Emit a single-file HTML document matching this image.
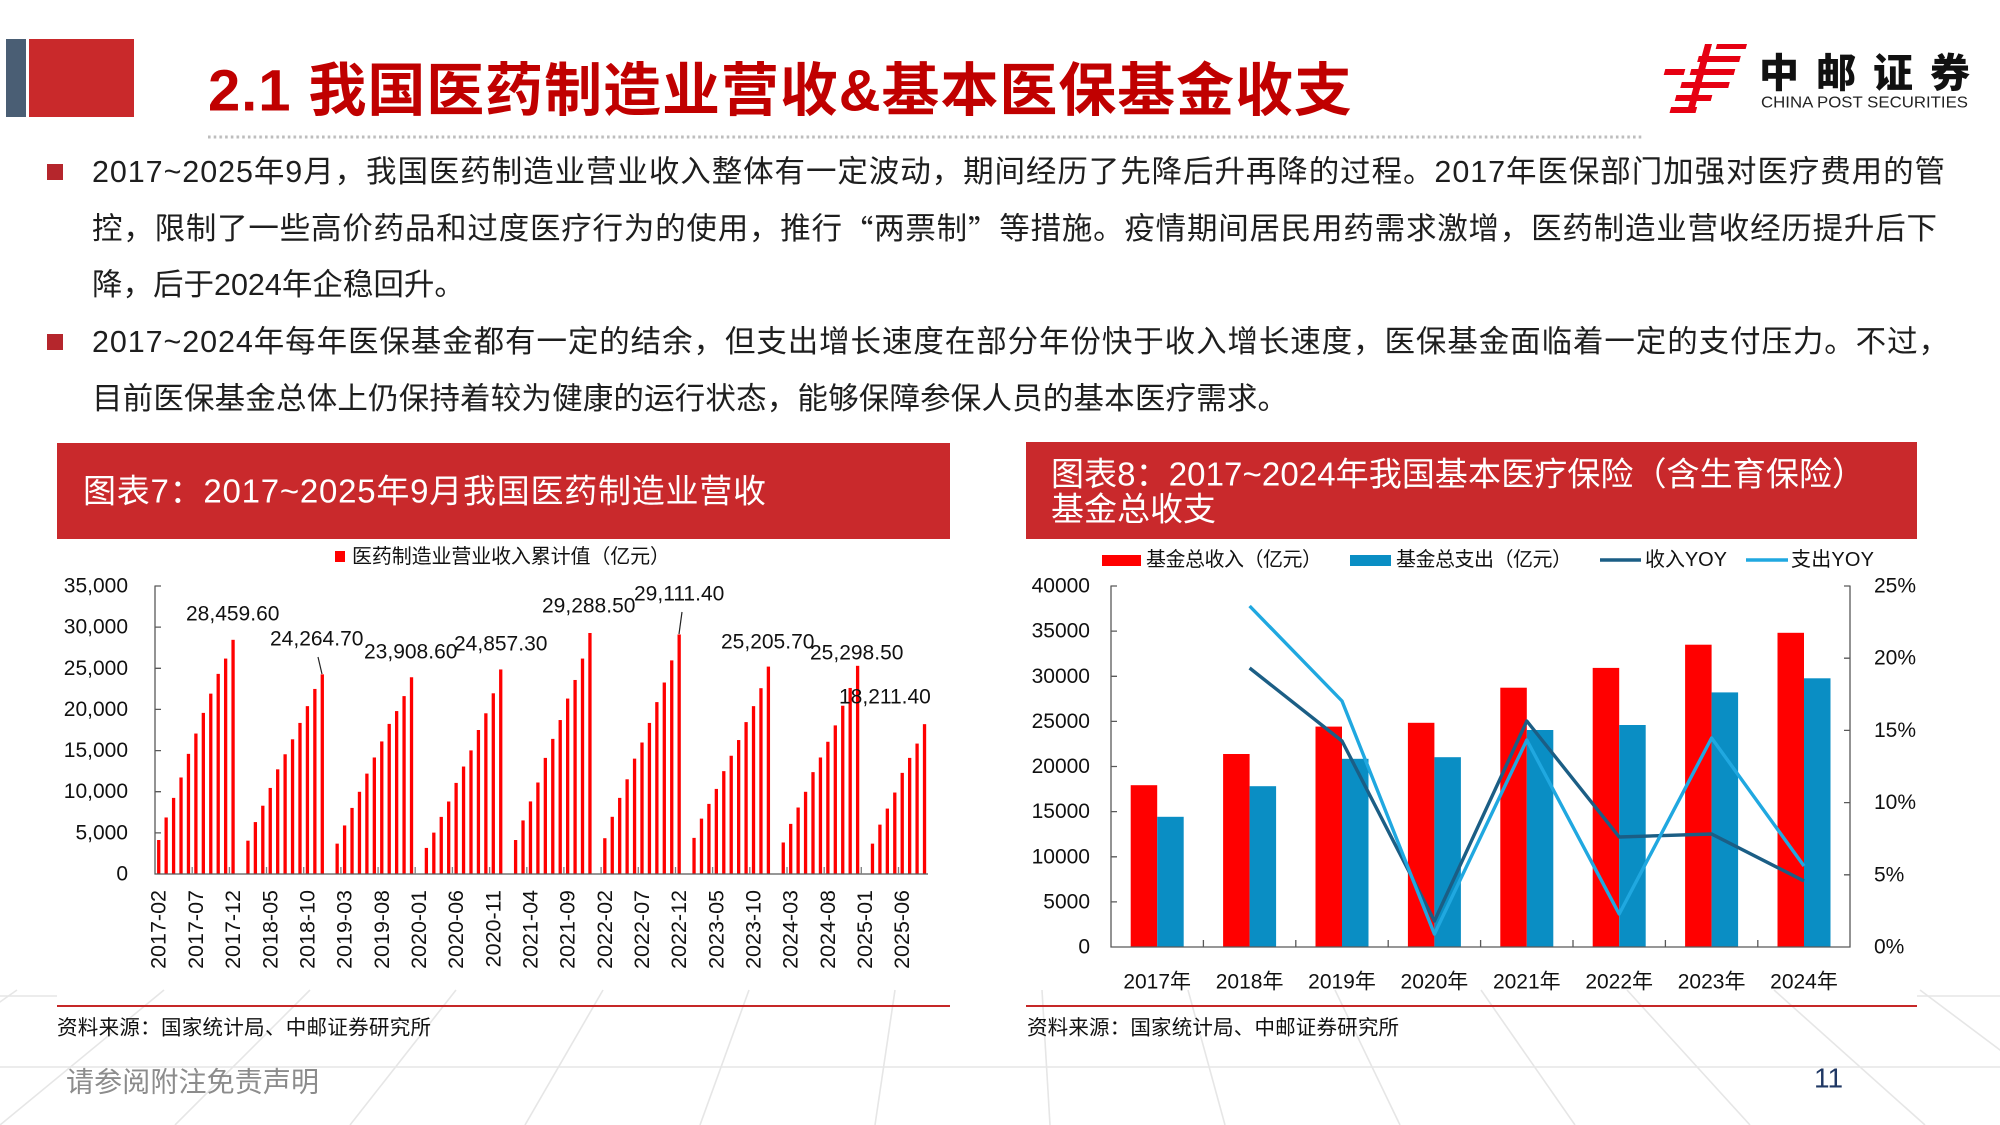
<!DOCTYPE html>
<html><head><meta charset="utf-8"><style>
html,body{margin:0;padding:0;background:#fff;}
svg{display:block;}
text{font-family:"Liberation Sans","Noto Sans CJK SC",sans-serif;}
.cjk{font-family:"Noto Sans CJK SC","Liberation Sans",sans-serif;}
</style></head><body>
<svg width="2000" height="1125" viewBox="0 0 2000 1125" xmlns="http://www.w3.org/2000/svg">
<rect width="2000" height="1125" fill="#fff"/>
<!-- background perspective lines -->
<g stroke="#e6e6e6" stroke-width="1.6" fill="none">
<line x1="0" y1="1067" x2="2000" y2="1067"/>
<line x1="0" y1="996" x2="57" y2="996"/>
<line x1="1917" y1="996" x2="2000" y2="996"/>
<line x1="-350" y1="1125" x2="-129" y2="990"/>
<line x1="-175" y1="1125" x2="17" y2="990"/>
<line x1="0" y1="1125" x2="164" y2="990"/>
<line x1="175" y1="1125" x2="310" y2="990"/>
<line x1="350" y1="1125" x2="456" y2="990"/>
<line x1="525" y1="1125" x2="603" y2="990"/>
<line x1="700" y1="1125" x2="749" y2="990"/>
<line x1="875" y1="1125" x2="895" y2="990"/>
<line x1="1050" y1="1125" x2="1042" y2="990"/>
<line x1="1225" y1="1125" x2="1188" y2="990"/>
<line x1="1400" y1="1125" x2="1335" y2="990"/>
<line x1="1575" y1="1125" x2="1481" y2="990"/>
<line x1="1750" y1="1125" x2="1627" y2="990"/>
<line x1="1925" y1="1125" x2="1774" y2="990"/>
<line x1="2100" y1="1125" x2="1920" y2="990"/>
<line x1="2275" y1="1125" x2="2066" y2="990"/>
</g>

<!-- header blocks -->
<rect x="6" y="39" width="20" height="78" fill="#4a5e74"/>
<rect x="29" y="39" width="105" height="78" fill="#c9292b"/>
<text x="208" y="91" font-size="58" font-weight="bold" fill="#c00000" dominant-baseline="central" textLength="1144" lengthAdjust="spacing">2.1 我国医药制造业营收&amp;基本医保基金收支</text>
<rect x="208" y="135.5" width="1435" height="3" fill="url(#dots)"/>
<defs>
<pattern id="dots" x="208" y="0" width="5.7" height="3" patternUnits="userSpaceOnUse"><rect width="2.6" height="3" fill="#bdbdbd"/></pattern>
</defs>

<!-- logo -->
<g transform="translate(1672 44) skewX(-15)" fill="#e60012">
<rect x="45" y="0" width="30" height="5"/>
<rect x="30" y="12" width="42" height="6"/>
<rect x="0" y="25" width="20" height="6"/>
<rect x="26" y="25" width="44" height="6"/>
<rect x="20" y="38" width="48" height="6"/>
<rect x="18" y="51" width="36" height="6"/>
<rect x="16" y="63" width="26" height="6"/>
<rect x="33" y="0" width="7" height="69"/>
</g>
<text x="1759" y="70" font-size="40" font-weight="900" fill="#111" dominant-baseline="central" textLength="211" lengthAdjust="spacing" class="cjk">中邮证券</text>
<text x="1761" y="103" font-size="15.5" fill="#222" dominant-baseline="central" textLength="207" lengthAdjust="spacingAndGlyphs">CHINA POST SECURITIES</text>

<!-- bullets -->
<rect x="47" y="164" width="16" height="16" fill="#b5262c"/>
<rect x="47" y="334" width="16" height="16" fill="#b5262c"/>
<g font-size="30.5" fill="#1e1e1e">
<text x="92" y="172" dominant-baseline="central" textLength="1853" lengthAdjust="spacing">2017~2025年9月，我国医药制造业营业收入整体有一定波动，期间经历了先降后升再降的过程。2017年医保部门加强对医疗费用的管</text>
<text x="92" y="229" dominant-baseline="central" textLength="1845" lengthAdjust="spacing">控，限制了一些高价药品和过度医疗行为的使用，推行<tspan class="cjk">“</tspan>两票制<tspan class="cjk">”</tspan>等措施。疫情期间居民用药需求激增，医药制造业营收经历提升后下</text>
<text x="92" y="285" dominant-baseline="central">降，后于2024年企稳回升。</text>
<text x="92" y="342" dominant-baseline="central" textLength="1857" lengthAdjust="spacing">2017~2024年每年医保基金都有一定的结余，但支出增长速度在部分年份快于收入增长速度，医保基金面临着一定的支付压力。不过，</text>
<text x="92" y="399" dominant-baseline="central" textLength="1196" lengthAdjust="spacing">目前医保基金总体上仍保持着较为健康的运行状态，能够保障参保人员的基本医疗需求。</text>
</g>

<!-- ============ LEFT CHART ============ -->
<rect x="57" y="443" width="893" height="96" fill="#c9292c"/>
<text x="83" y="491" font-size="33" fill="#fff" dominant-baseline="central" textLength="683" lengthAdjust="spacing">图表7：2017~2025年9月我国医药制造业营收</text>
<rect x="335" y="551" width="10" height="11" fill="#ff0000"/>
<text x="352" y="557" font-size="20" fill="#111" dominant-baseline="central" textLength="318" lengthAdjust="spacing">医药制造业营业收入累计值（亿元）</text>

<g font-size="21" fill="#111" text-anchor="end" dominant-baseline="central">
<text x="128" y="586">35,000</text>
<text x="128" y="627.1">30,000</text>
<text x="128" y="668.3">25,000</text>
<text x="128" y="709.4">20,000</text>
<text x="128" y="750.6">15,000</text>
<text x="128" y="791.7">10,000</text>
<text x="128" y="832.9">5,000</text>
<text x="128" y="874">0</text>
</g>

<g transform="translate(157.07 874) scale(7.435 -0.0082286)" fill="#ff0000">
<rect x="0" width=".444" height="4130"/><rect x="1" width=".444" height="6870"/><rect x="2" width=".444" height="9250"/><rect x="3" width=".444" height="11730"/><rect x="4" width=".444" height="14600"/><rect x="5" width=".444" height="17070"/><rect x="6" width=".444" height="19580"/><rect x="7" width=".444" height="21920"/><rect x="8" width=".444" height="24320"/><rect x="9" width=".444" height="26180"/><rect x="10" width=".444" height="28460"/>
<rect x="12" width=".444" height="4050"/><rect x="13" width=".444" height="6310"/><rect x="14" width=".444" height="8300"/><rect x="15" width=".444" height="10460"/><rect x="16" width=".444" height="12720"/><rect x="17" width=".444" height="14550"/><rect x="18" width=".444" height="16370"/><rect x="19" width=".444" height="18360"/><rect x="20" width=".444" height="20400"/><rect x="21" width=".444" height="22490"/><rect x="22" width=".444" height="24265"/>
<rect x="24" width=".444" height="3690"/><rect x="25" width=".444" height="5900"/><rect x="26" width=".444" height="8030"/><rect x="27" width=".444" height="9990"/><rect x="28" width=".444" height="12200"/><rect x="29" width=".444" height="14160"/><rect x="30" width=".444" height="16110"/><rect x="31" width=".444" height="18240"/><rect x="32" width=".444" height="19800"/><rect x="33" width=".444" height="21620"/><rect x="34" width=".444" height="23909"/>
<rect x="36" width=".444" height="3170"/><rect x="37" width=".444" height="5030"/><rect x="38" width=".444" height="6940"/><rect x="39" width=".444" height="8810"/><rect x="40" width=".444" height="11070"/><rect x="41" width=".444" height="13060"/><rect x="42" width=".444" height="15020"/><rect x="43" width=".444" height="17500"/><rect x="44" width=".444" height="19530"/><rect x="45" width=".444" height="21960"/><rect x="46" width=".444" height="24857"/>
<rect x="48" width=".444" height="4130"/><rect x="49" width=".444" height="6510"/><rect x="50" width=".444" height="8820"/><rect x="51" width=".444" height="11120"/><rect x="52" width=".444" height="14110"/><rect x="53" width=".444" height="16420"/><rect x="54" width=".444" height="18710"/><rect x="55" width=".444" height="21320"/><rect x="56" width=".444" height="23580"/><rect x="57" width=".444" height="26180"/><rect x="58" width=".444" height="29289"/>
<rect x="60" width=".444" height="4350"/><rect x="61" width=".444" height="6950"/><rect x="62" width=".444" height="9250"/><rect x="63" width=".444" height="11510"/><rect x="64" width=".444" height="14020"/><rect x="65" width=".444" height="15980"/><rect x="66" width=".444" height="18360"/><rect x="67" width=".444" height="20890"/><rect x="68" width=".444" height="23270"/><rect x="69" width=".444" height="25960"/><rect x="70" width=".444" height="29111"/>
<rect x="72" width=".444" height="4390"/><rect x="73" width=".444" height="6730"/><rect x="74" width=".444" height="8520"/><rect x="75" width=".444" height="10340"/><rect x="76" width=".444" height="12500"/><rect x="77" width=".444" height="14370"/><rect x="78" width=".444" height="16280"/><rect x="79" width=".444" height="18460"/><rect x="80" width=".444" height="20400"/><rect x="81" width=".444" height="22580"/><rect x="82" width=".444" height="25206"/>
<rect x="84" width=".444" height="3830"/><rect x="85" width=".444" height="6090"/><rect x="86" width=".444" height="8080"/><rect x="87" width=".444" height="9990"/><rect x="88" width=".444" height="12380"/><rect x="89" width=".444" height="14160"/><rect x="90" width=".444" height="16070"/><rect x="91" width=".444" height="18060"/><rect x="92" width=".444" height="20450"/><rect x="93" width=".444" height="22610"/><rect x="94" width=".444" height="25299"/>
<rect x="96" width=".444" height="3690"/><rect x="97" width=".444" height="6000"/><rect x="98" width=".444" height="7950"/><rect x="99" width=".444" height="9900"/><rect x="100" width=".444" height="12290"/><rect x="101" width=".444" height="14110"/><rect x="102" width=".444" height="15850"/><rect x="103" width=".444" height="18211"/>
</g>

<g stroke="#595959" stroke-width="1.3" fill="none">
<line x1="155" y1="585.5" x2="155" y2="874.5"/>
<line x1="154.5" y1="874" x2="928" y2="874"/>
<path d="M155 586H161M155 627.1H161M155 668.3H161M155 709.4H161M155 750.6H161M155 791.7H161M155 832.9H161"/>
<path stroke="#7f7f7f" d="M192.2 867V874M229.4 867V874M266.5 867V874M303.7 867V874M340.9 867V874M378.1 867V874M415.2 867V874M452.4 867V874M489.6 867V874M526.8 867V874M563.9 867V874M601.1 867V874M638.3 867V874M675.5 867V874M712.6 867V874M749.8 867V874M787 867V874M824.2 867V874M861.3 867V874M898.5 867V874"/>
</g>

<g font-size="21.5" fill="#111" text-anchor="end" dominant-baseline="central">
<text transform="translate(158.72 890) rotate(-90)">2017-02</text>
<text transform="translate(195.90 890) rotate(-90)">2017-07</text>
<text transform="translate(233.07 890) rotate(-90)">2017-12</text>
<text transform="translate(270.25 890) rotate(-90)">2018-05</text>
<text transform="translate(307.42 890) rotate(-90)">2018-10</text>
<text transform="translate(344.60 890) rotate(-90)">2019-03</text>
<text transform="translate(381.77 890) rotate(-90)">2019-08</text>
<text transform="translate(418.95 890) rotate(-90)">2020-01</text>
<text transform="translate(456.12 890) rotate(-90)">2020-06</text>
<text transform="translate(493.30 890) rotate(-90)">2020-11</text>
<text transform="translate(530.47 890) rotate(-90)">2021-04</text>
<text transform="translate(567.65 890) rotate(-90)">2021-09</text>
<text transform="translate(604.82 890) rotate(-90)">2022-02</text>
<text transform="translate(642.00 890) rotate(-90)">2022-07</text>
<text transform="translate(679.17 890) rotate(-90)">2022-12</text>
<text transform="translate(716.35 890) rotate(-90)">2023-05</text>
<text transform="translate(753.52 890) rotate(-90)">2023-10</text>
<text transform="translate(790.70 890) rotate(-90)">2024-03</text>
<text transform="translate(827.87 890) rotate(-90)">2024-08</text>
<text transform="translate(865.05 890) rotate(-90)">2025-01</text>
<text transform="translate(902.22 890) rotate(-90)">2025-06</text>
</g>

<g font-size="21" fill="#111" dominant-baseline="central">
<text x="186" y="614">28,459.60</text>
<text x="270" y="639">24,264.70</text>
<text x="364" y="652">23,908.60</text>
<text x="454" y="644">24,857.30</text>
<text x="542" y="606">29,288.50</text>
<text x="634" y="594">29,111.40</text>
<text x="721" y="642">25,205.70</text>
<text x="810" y="653">25,298.50</text>
<text x="839" y="697">18,211.40</text>
</g>
<g stroke="#222" stroke-width="1.2">
<line x1="318" y1="657" x2="322" y2="674"/>
<line x1="682" y1="612" x2="679" y2="634"/>
</g>

<line x1="57" y1="1006" x2="950" y2="1006" stroke="#c62828" stroke-width="2"/>
<text x="57" y="1028" font-size="20.5" fill="#111" dominant-baseline="central" textLength="374" lengthAdjust="spacing">资料来源：国家统计局、中邮证券研究所</text>

<!-- ============ RIGHT CHART ============ -->
<rect x="1026" y="442" width="891" height="97" fill="#c9292c"/>
<text x="1051" y="474" font-size="33" fill="#fff" dominant-baseline="central" textLength="814" lengthAdjust="spacing">图表8：2017~2024年我国基本医疗保险（含生育保险）</text>
<text x="1051" y="509" font-size="33" fill="#fff" dominant-baseline="central">基金总收支</text>

<rect x="1102" y="555" width="39" height="11" fill="#ff0000"/>
<text x="1146" y="560" font-size="20" fill="#111" dominant-baseline="central" textLength="176" lengthAdjust="spacing">基金总收入（亿元）</text>
<rect x="1350" y="555" width="41" height="11" fill="#0a8ec4"/>
<text x="1396" y="560" font-size="20" fill="#111" dominant-baseline="central" textLength="176" lengthAdjust="spacing">基金总支出（亿元）</text>
<line x1="1600" y1="560" x2="1641" y2="560" stroke="#1b5e85" stroke-width="3.5"/>
<text x="1645" y="560" font-size="20" fill="#111" dominant-baseline="central" textLength="82" lengthAdjust="spacing">收入YOY</text>
<line x1="1746" y1="560" x2="1788" y2="560" stroke="#20a8e0" stroke-width="3.5"/>
<text x="1791" y="560" font-size="20" fill="#111" dominant-baseline="central" textLength="83" lengthAdjust="spacing">支出YOY</text>

<g font-size="21" fill="#111" text-anchor="end" dominant-baseline="central">
<text x="1090" y="586">40000</text>
<text x="1090" y="631.1">35000</text>
<text x="1090" y="676.3">30000</text>
<text x="1090" y="721.4">25000</text>
<text x="1090" y="766.5">20000</text>
<text x="1090" y="811.6">15000</text>
<text x="1090" y="856.8">10000</text>
<text x="1090" y="901.9">5000</text>
<text x="1090" y="947">0</text>
</g>
<g font-size="21" fill="#111" dominant-baseline="central">
<text x="1874" y="586">25%</text>
<text x="1874" y="658.2">20%</text>
<text x="1874" y="730.4">15%</text>
<text x="1874" y="802.6">10%</text>
<text x="1874" y="874.8">5%</text>
<text x="1874" y="947">0%</text>
</g>

<g fill="#ff0000">
<rect x="1130.7" y="785.2" width="26.5" height="161.8"/>
<rect x="1223.1" y="754" width="26.5" height="193"/>
<rect x="1315.5" y="726.6" width="26.5" height="220.4"/>
<rect x="1407.9" y="722.8" width="26.5" height="224.2"/>
<rect x="1500.3" y="687.7" width="26.5" height="259.3"/>
<rect x="1592.7" y="667.9" width="26.5" height="279.1"/>
<rect x="1685.1" y="644.7" width="26.5" height="302.3"/>
<rect x="1777.5" y="632.8" width="26.5" height="314.2"/>
</g>
<g fill="#0a8ec4">
<rect x="1157.2" y="816.8" width="26.5" height="130.2"/>
<rect x="1249.6" y="786.2" width="26.5" height="160.8"/>
<rect x="1342" y="758.8" width="26.5" height="188.2"/>
<rect x="1434.4" y="757.2" width="26.5" height="189.8"/>
<rect x="1526.8" y="730" width="26.5" height="217"/>
<rect x="1619.2" y="725" width="26.5" height="222"/>
<rect x="1711.6" y="692.4" width="26.5" height="254.6"/>
<rect x="1804" y="678.3" width="26.5" height="268.7"/>
</g>

<g stroke="#595959" stroke-width="1.3" fill="none">
<line x1="1111" y1="585.5" x2="1111" y2="947.5"/>
<line x1="1850" y1="585.5" x2="1850" y2="947.5"/>
<line x1="1110.5" y1="947" x2="1850.5" y2="947"/>
<path d="M1111 586H1117M1111 631.1H1117M1111 676.3H1117M1111 721.4H1117M1111 766.5H1117M1111 811.6H1117M1111 856.8H1117M1111 901.9H1117"/>
<path d="M1844 586H1850M1844 658.2H1850M1844 730.4H1850M1844 802.6H1850M1844 874.8H1850"/>
<path d="M1203.4 940V947M1295.8 940V947M1388.2 940V947M1480.6 940V947M1573 940V947M1665.4 940V947M1757.8 940V947"/>
</g>

<polyline points="1249.6,668 1342,741 1434.4,921 1526.8,721 1619.2,837 1711.6,834 1804,881" fill="none" stroke="#1b5e85" stroke-width="3.4" stroke-linejoin="round"/>
<polyline points="1249.6,606 1342,701 1434.4,934 1526.8,740 1619.2,914 1711.6,738 1804,866" fill="none" stroke="#20a8e0" stroke-width="3.4" stroke-linejoin="round"/>

<g font-size="21" fill="#111" text-anchor="middle" dominant-baseline="central">
<text x="1157.2" y="982">2017年</text>
<text x="1249.6" y="982">2018年</text>
<text x="1342" y="982">2019年</text>
<text x="1434.4" y="982">2020年</text>
<text x="1526.8" y="982">2021年</text>
<text x="1619.2" y="982">2022年</text>
<text x="1711.6" y="982">2023年</text>
<text x="1804" y="982">2024年</text>
</g>

<line x1="1026" y1="1006" x2="1917" y2="1006" stroke="#c62828" stroke-width="2"/>
<text x="1027" y="1028" font-size="20.5" fill="#111" dominant-baseline="central" textLength="372" lengthAdjust="spacing">资料来源：国家统计局、中邮证券研究所</text>

<!-- footer -->
<text x="66" y="1082" font-size="28" fill="#8c8c8c" dominant-baseline="central" textLength="253" lengthAdjust="spacing">请参阅附注免责声明</text>
<text x="1814" y="1078" font-size="28" fill="#203864" dominant-baseline="central">11</text>
</svg>
</body></html>
